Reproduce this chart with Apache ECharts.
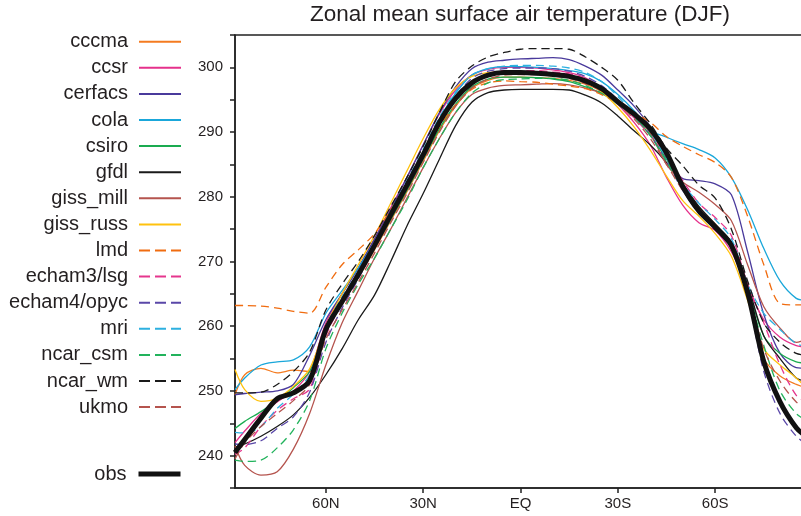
<!DOCTYPE html>
<html>
<head>
<meta charset="utf-8">
<script src="https://cdn.jsdelivr.net/npm/echarts@6/dist/echarts.min.js"></script>
<style>
html,body{margin:0;padding:0;background:#fff;}
#chart{width:801px;height:516px;}
</style>
</head>
<body>
<div id="chart"></div>
<script>
// Latitudes (positive = N, negative = S)
const lats = [88,85,80,75,70,65,60,55,50,45,40,35,30,25,20,15,10,5,0,-5,-10,-15,-20,-25,-30,-35,-40,-45,-50,-55,-60,-65,-70,-75,-80,-85,-88];

const xTickValues = [60,30,0,-30,-60];
const yTickLabels = [240,250,260,270,280,290,300];

const cccma   = [249.4,252.5,253.5,252.8,253.2,253,259,263.6,267.5,271.8,276.3,280.8,285.5,290.2,294,296.8,298,298.5,298.5,298.4,298.3,298,297.4,296.3,294.5,292.5,290,286.3,282,278.2,275.8,272.6,265.5,255,252.3,251,250.5];
const ccsr    = [242,243.8,246.5,248.3,250,253,260.5,265,269,273.5,278.3,283,288,292.8,296.5,298.8,299.7,300,300,299.9,299.6,299.2,298.4,296.8,294.3,291.5,288,283,278.7,276,274.8,271.5,266,261,258.3,257,256.8];
const cerfacs = [249.4,249.6,249.8,250,251,255.5,261,265,269,273.5,278,283,288,293,297,299.8,300.8,301.1,301.3,301.4,301.5,301.2,300.2,298.8,296.5,294,290.8,286,282.8,282.5,282,280.3,271.5,261.8,255.8,253.6,253.5];
const cola    = [250.2,252,254,254.5,254.8,256.8,262,265.5,269,273,277.5,282,287,292,296,298.8,299.8,300.1,300.1,300,299.8,299.5,299,297.8,295.8,293.3,290.3,289.2,288.2,287.3,286,283,278,272,267,264.3,264];
const csiro   = [244.2,245.3,246.8,248.5,250.5,253,259,263.5,267.5,272,276.5,281,285.8,290.5,294.3,297,298.2,298.5,298.5,298.4,298.2,297.8,297,296,294.3,292.3,289.5,285.8,281.5,278,275.5,272.5,266,258.5,255.8,254.5,254.3];
const gfdl    = [241.3,241.8,243,244.5,246.3,249,252.5,256.5,261,264.8,270,275.5,280.5,285.8,291,294.6,296.1,296.5,296.6,296.6,296.6,296.5,295.7,294.5,292.5,290.2,288,285.3,282,278.5,275.8,273,266.5,258.5,255,252,251.5];
const giss_mill = [241.5,238.5,237,237.5,241,246.5,254,260.5,265.5,270.5,275,279.8,284.5,289,293,295.8,296.8,297.2,297.3,297.4,297.5,297.3,296.8,296,294.5,292.5,289.8,285,282.3,280.7,278.8,276.3,269.5,263,259.7,257.5,258];
const giss_russ = [253.3,250.2,248.4,248.9,250.7,253.4,260,265,269.5,274,279,284,289,293.5,296.8,298.6,299.2,299.3,299.3,299.2,299,298.6,297.8,296.2,293.8,290.8,287.2,283.2,279.4,277,274.3,270.8,264,256.5,254,252,250.5];
const lmd     = [263.2,263.2,263.1,262.8,262.3,262,266,269.5,271.8,274.3,278,282.2,286.5,290.8,294.2,296.6,297.6,297.9,297.8,297.7,297.4,297.1,296.7,295.8,294.5,293,291.5,289.3,287.8,286.5,285.3,283,277,269.5,263.5,263.3,263.3];
const echam3_lsg  = [240.2,241.2,244.5,247,248.8,250.3,258.5,263.5,267.8,272.3,277,281.5,286.3,291.2,295,297.8,299,299.5,299.5,299.5,299.3,299,298.2,296.8,294.5,292.2,289.5,286.3,282.5,279,276.8,274,266.5,260.5,254,249.3,248.3];
const echam4_opyc = [241.8,241.7,242.3,244.2,246,249.8,257.5,262.8,267.3,272,276.8,281.5,286.5,291.5,295.5,298.3,299.4,299.8,299.9,299.9,299.8,299.4,298.6,297.2,295,292.5,289.5,285.5,281,277.5,275,272,264.5,253,246.5,243,241.8];
const mri     = [243.6,243.5,244.5,247.3,249.5,252.5,260,264.5,268.5,273,277.8,282.5,287.3,292.3,296.2,298.8,299.8,300.2,300.3,300.3,300.2,299.9,299.2,297.8,295.5,292.8,290,286,282,279,276.5,273.5,266.5,262,259.5,257.3,256.9];
const ncar_csm = [239.3,239.1,239.3,241.2,244,248.5,256.5,262,266.5,270.5,275,279.5,284.5,289,293,296,297.6,298.1,298.2,298.3,298.3,298,297.2,296,294.5,292.5,289.5,285.5,281.3,278,275.5,272.8,265.5,257,250,246.5,245.5];
const ncar_wm = [249.7,249.7,249.8,251,253,256,262.5,266.5,270,274,278.5,283,287.8,293,297.8,300.2,301.6,302.3,302.8,302.9,302.9,302.8,301.6,300,298,294.5,291.3,287.5,284.8,281.8,279.8,275,267,260.5,257.5,255.8,255.5];
const ukmo    = [239.5,242,244.5,246.5,248.5,251,258,262.5,266.8,271.3,276,280.5,285.3,290,294,296.8,298.2,298.8,298.9,298.9,298.7,298.3,297.5,296.3,294.3,292,289,285,281,277.8,275.5,272.5,265.5,256.5,251.5,248.3,247.5];
const obs     = [240.5,242.5,245.8,248.8,249.7,251.6,259.5,263.8,268,272.5,277.2,281.8,286.5,291.5,295.2,297.6,298.8,299.2,299.2,299.1,298.9,298.6,297.9,296.7,294.7,292.8,290.5,286.8,281.6,277.8,275.3,272.5,265.2,254.5,248.3,244.3,243];

const modelNames = ['cccma','ccsr','cerfacs','cola','csiro','gfdl','giss_mill','giss_russ','lmd','echam3/lsg','echam4/opyc','mri','ncar_csm','ncar_wm','ukmo'];
const modelValues = [cccma,ccsr,cerfacs,cola,csiro,gfdl,giss_mill,giss_russ,lmd,echam3_lsg,echam4_opyc,mri,ncar_csm,ncar_wm,ukmo];
const modelColors = ['#F47B20','#E5318B','#4A3A9C','#1AA7DA','#1AAB50','#1a1a1a','#B5544E','#FFC20E','#F06C10','#E5368D','#5A47A8','#2DB0E0','#22B35C','#1a1a1a','#B5544E'];
const modelDashed = [false,false,false,false,false,false,false,false,true,true,true,true,true,true,true];

const FONT = '"Liberation Sans", Arial, Helvetica, sans-serif';
const TXT = '#231f20';

const series = modelNames.map((name, k) => ({
  name: name,
  type: 'line',
  data: lats.map((lat, i) => [lat, modelValues[k][i]]),
  symbol: 'none',
  showSymbol: false,
  smooth: 0.3,
  silent: true,
  itemStyle: { color: modelColors[k] },
  lineStyle: { color: modelColors[k], width: 1.3, type: modelDashed[k] ? [8, 5] : 'solid' },
  emphasis: { disabled: true }
}));
series.push({
  name: 'obs',
  type: 'line',
  data: lats.map((lat, i) => [lat, obs[i]]),
  symbol: 'none',
  showSymbol: false,
  smooth: 0.3,
  silent: true,
  z: 5,
  itemStyle: { color: '#111' },
  lineStyle: { color: '#111', width: 5 },
  emphasis: { disabled: true }
});

const chart = echarts.init(document.getElementById('chart'), null, { renderer: 'canvas' });
chart.setOption({
  animation: false,
  backgroundColor: '#fff',
  textStyle: { fontFamily: FONT },
  title: {
    text: 'Zonal mean surface air temperature (DJF)',
    left: 515, top: -2, textAlign: 'center',
    textStyle: { fontSize: 22.5, fontWeight: 'normal', color: TXT, fontFamily: FONT }
  },
  grid: {
    left: 235, right: -5, top: 35, bottom: 28,
    show: true, borderColor: '#222', borderWidth: 1.5,
    containLabel: false, outerBoundsMode: 'none'
  },
  legend: [{
    orient: 'vertical', right: 619, top: 31.7, align: 'right',
    itemWidth: 42, itemHeight: 14, itemGap: 6.1, padding: 0,
    selectedMode: false,
    itemStyle: { opacity: 0 },
    data: modelNames.map((n, k) => ({ name: n, lineStyle: { width: 2, type: modelDashed[k] ? [11, 5] : 'solid' } })),
    textStyle: { fontSize: 20, color: TXT, fontFamily: FONT, lineHeight: 20, padding: [0, 6, 0, 0] }
  }, {
    orient: 'vertical', right: 618, top: 464, align: 'right',
    itemWidth: 42, itemHeight: 14, padding: 0,
    selectedMode: false,
    itemStyle: { opacity: 0 },
    data: [{ name: 'obs', lineStyle: { width: 5 } }],
    textStyle: { fontSize: 20, color: TXT, fontFamily: FONT, lineHeight: 20, padding: [0, 7, 0, 0] }
  }],
  xAxis: {
    type: 'value', min: -88, max: 88, inverse: true,
    axisLine: { show: true, onZero: false, lineStyle: { color: '#222', width: 1.5 } },
    axisTick: { show: true, customValues: xTickValues, length: 5, lineStyle: { color: '#222', width: 1.5 } },
    axisLabel: {
      customValues: xTickValues, margin: 8, fontSize: 15, color: TXT, fontFamily: FONT,
      formatter: v => v === 0 ? 'EQ' : (v > 0 ? v + 'N' : (-v) + 'S')
    },
    splitLine: { show: false }
  },
  yAxis: {
    type: 'value', min: 235, max: 305, interval: 5,
    axisLine: { show: true, onZero: false, lineStyle: { color: '#222', width: 1.5 } },
    axisTick: { show: true, length: 5, lineStyle: { color: '#222', width: 1.5 } },
    axisLabel: {
      margin: 12, fontSize: 15, color: TXT, fontFamily: FONT,
      formatter: v => yTickLabels.indexOf(v) >= 0 ? String(v) : ''
    },
    splitLine: { show: false }
  },
  series: series
});
</script>
</body>
</html>
